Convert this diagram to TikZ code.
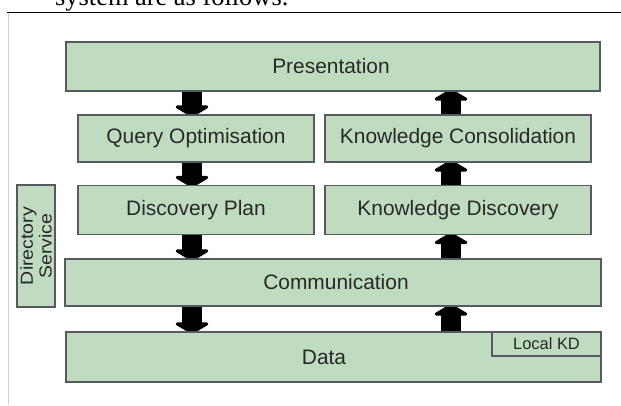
\documentclass[tikz,border=0pt]{standalone}
\usepackage{fontspec}
\setmainfont{Liberation Sans}
\newfontfamily\captionserif{Liberation Serif}
\usetikzlibrary{arrows.meta}
\pgfdeclarelayer{background}
\pgfsetlayers{background,main}

\definecolor{layerfill}{RGB}{192,220,192}
\definecolor{layerline}{RGB}{88,88,96}
\definecolor{layertext}{RGB}{40,40,40}

\tikzset{
  layer/.style={draw=layerline, line width=1.7bp, fill=layerfill,
    text=layertext, inner sep=0pt, font=\fontsize{21}{24}\selectfont},
  flow/.style={line width=20bp, black,
    -{Triangle[width=40bp,length=12bp,round]}, shorten >=-3bp},
}

\begin{document}
\begin{tikzpicture}[x=1bp,y=-1bp]
\useasboundingbox (0,0) rectangle (621,405);
\clip (0,0) rectangle (621,405);

% surrounding page: end of the sentence above, rule and frame
\node[anchor=base west, inner sep=0pt, font=\captionserif\fontsize{26.5}{30}\selectfont]
  (caption) at (55,5.5) {system are as follows.};
\draw[line width=1.3bp] (7,12.5) -- (621,12.5);
\draw[line width=1bp, black!18] (8,13) -- (8,405);

% layers
\node[layer, minimum width=534bp, minimum height=49bp] (pres) at (333,66.5) {};
\node[text=layertext, font=\fontsize{21}{24}\selectfont] at (331,66.5) {Presentation};

\node[layer, minimum width=236bp, minimum height=47bp] (qo) at (196,138.5) {Query Optimisation};
\node[layer, minimum width=266bp, minimum height=47bp] (kc) at (458,138.5) {Knowledge Consolidation};
\node[layer, minimum width=236bp, minimum height=49bp] (dp) at (196,210) {Discovery Plan};
\node[layer, minimum width=266bp, minimum height=49bp] (kd) at (458,210) {Knowledge Discovery};

\node[layer, minimum width=38bp, minimum height=122bp] (ds) at (36,246) {};
\node[rotate=90, text=layertext, align=center, inner sep=0pt,
  font=\fontsize{17.5}{19}\selectfont] at (ds) {\scalebox{1.12}[1]{Directory}\\\scalebox{1.12}[1]{Service}};

\node[layer, minimum width=536bp, minimum height=47bp] (comm) at (333,282.5) {};
\node[text=layertext, font=\fontsize{21}{24}\selectfont] at (336,282.5) {Communication};

\node[layer, minimum width=535bp, minimum height=50bp] (data) at (333.5,357) {};
\node[text=layertext, font=\fontsize{21}{24}\selectfont] at (324,357) {Data};
\node[layer, minimum width=109bp, minimum height=24bp, font=\fontsize{16.5}{18}\selectfont,
  anchor=north east] (lkd) at (data.north east) {Local KD};

% flow of queries (down) and of knowledge (up)
\coordinate (down) at (192,0);
\coordinate (up) at (451,0);
\begin{pgfonlayer}{background}
  \draw[flow] (pres.south -| down) -- (qo.north -| down);
  \draw[flow] (qo.south -| down) -- (dp.north -| down);
  \draw[flow] (dp.south -| down) -- (comm.north -| down);
  \draw[flow] (comm.south -| down) -- (data.north -| down);
  \draw[flow] (data.north -| up) -- (comm.south -| up);
  \draw[flow] (comm.north -| up) -- (kd.south -| up);
  \draw[flow] (kd.north -| up) -- (kc.south -| up);
  \draw[flow] (kc.north -| up) -- (pres.south -| up);
\end{pgfonlayer}
\end{tikzpicture}
\end{document}
